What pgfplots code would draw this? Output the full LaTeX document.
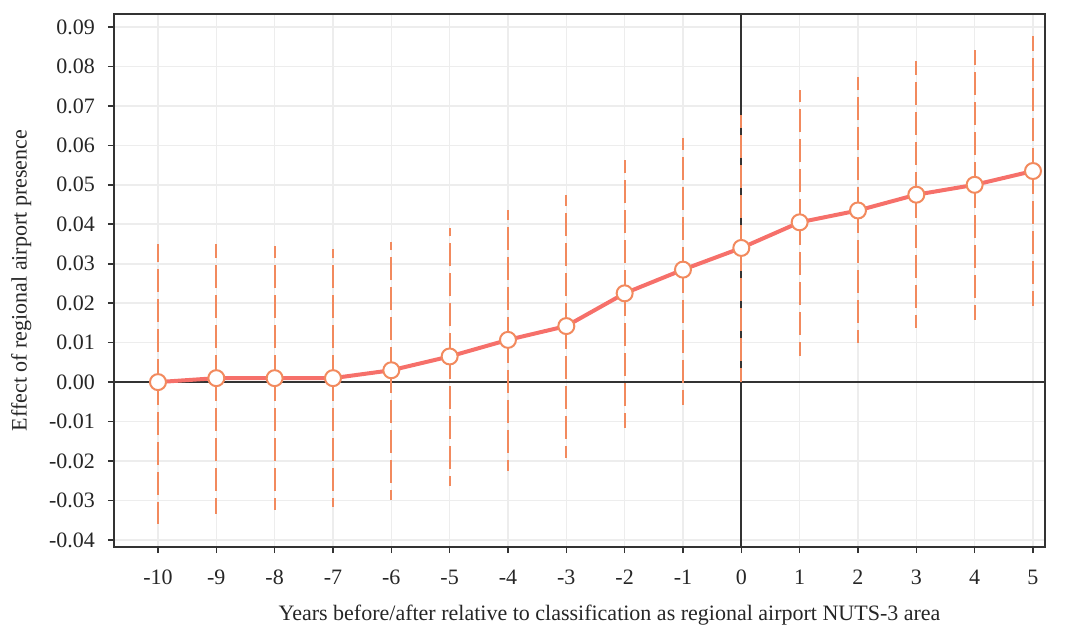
\documentclass[border=0pt]{standalone}
\usepackage{pgfplots}
\pgfplotsset{compat=1.18}
\usepackage{pgfplotstable}
\usepackage{fontspec}
\setmainfont{Liberation Serif}

\definecolor{estline}{HTML}{F6706A}
\definecolor{cibar}{HTML}{F28A5E}
\definecolor{gridc}{HTML}{EDEDED}
\definecolor{axisc}{HTML}{333333}

% year, estimate, lower and upper bound of the confidence interval
\pgfplotstableread{
x y lo hi
-10 0.0000 -0.0360 0.0350
-9 0.0010 -0.0335 0.0350
-8 0.0010 -0.0325 0.0345
-7 0.0010 -0.0317 0.0337
-6 0.0030 -0.0300 0.0355
-5 0.0065 -0.0264 0.0390
-4 0.0107 -0.0226 0.0436
-3 0.0142 -0.0193 0.0474
-2 0.0225 -0.0117 0.0563
-1 0.0285 -0.0058 0.0619
0 0.0340 0.0000 0.0677
1 0.0405 0.0066 0.0740
2 0.0435 0.0099 0.0773
3 0.0475 0.0137 0.0814
4 0.0500 0.0157 0.0842
5 0.0535 0.0193 0.0877
}\effects

\begin{document}
\begin{tikzpicture}[font=\fontsize{11}{13}\selectfont]
\begin{axis}[
  name=ax,
  scale only axis,
  width=465.5pt,
  height=266.5pt,
  xmin=-10.754, xmax=5.206,
  ymin=-0.0418, ymax=0.0933,
  scaled y ticks=false,
  xtick={-10,...,5},
  xticklabels={-10,-9,-8,-7,-6,-5,-4,-3,-2,-1,0,1,2,3,4,5},
  ytick={-0.04,-0.03,...,0.09},
  yticklabels={-0.04,-0.03,-0.02,-0.01,0.00,0.01,0.02,0.03,0.04,0.05,0.06,0.07,0.08,0.09},
  tick pos=left,
  tick align=outside,
  major tick length=3pt,
  tick style={axisc, line width=0.8pt},
  axis line style={axisc, line width=1pt},
  grid=major,
  major grid style={gridc, line width=0.8pt},
  extra x ticks={0},
  extra x tick labels={},
  extra y ticks={0},
  extra y tick labels={},
  extra tick style={grid=major, major grid style={axisc, line width=1pt}, major tick length=0pt},
  xticklabel style={text=black!85, yshift=-5pt},
  yticklabel style={text=black!85, xshift=-3pt},
  xlabel={Years before/after relative to classification as regional airport NUTS-3 area},
  ylabel={Effect of regional airport presence},
  xlabel style={text=black!85, xshift=15pt},
  ylabel style={text=black!85, yshift=-1pt},
]
\addplot[draw=none, mark=none, forget plot,
  error bars/.cd, y dir=both, y explicit, error mark=none,
  error bar style={draw=cibar, line width=1pt, dash pattern=on 11.5pt off 3.5pt}]
  table[x=x, y=y, y error plus expr=\thisrow{hi}-\thisrow{y},
        y error minus expr=\thisrow{y}-\thisrow{lo}] {\effects};
\addplot[estline, line width=2pt, mark=*, mark size=4pt,
  mark options={draw=cibar, fill=white, line width=1pt, solid}]
  table[x=x, y=y] {\effects};
\end{axis}
\path ([xshift=11pt, yshift=7pt]ax.north east);
\path ([xshift=-57pt]ax.south west);
\end{tikzpicture}
\end{document}
